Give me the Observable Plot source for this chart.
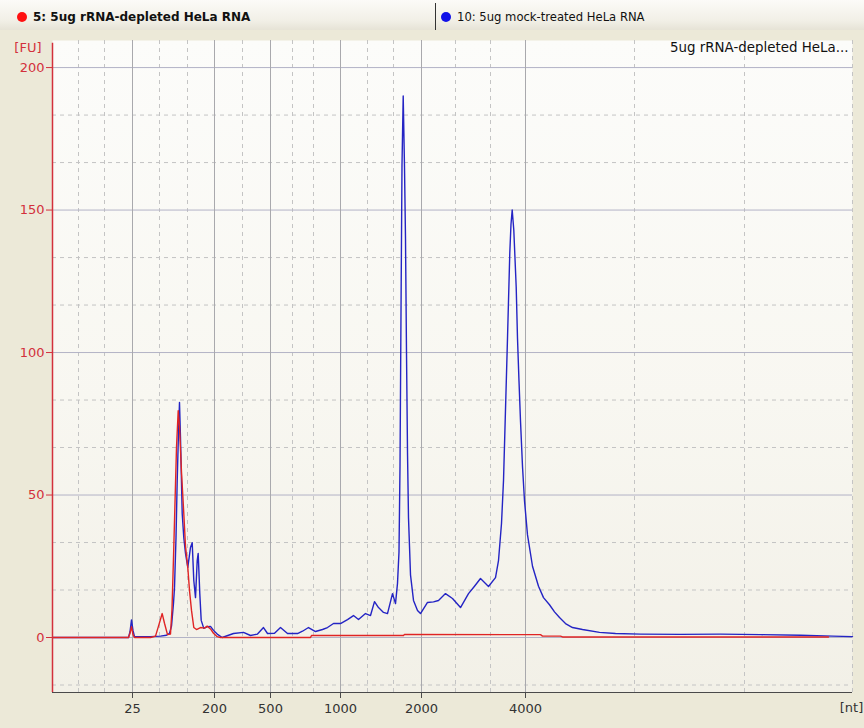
<!DOCTYPE html>
<html>
<head>
<meta charset="utf-8">
<script src="https://cdn.jsdelivr.net/npm/d3@7"></script>
<script src="https://cdn.jsdelivr.net/npm/@observablehq/plot@0.6"></script>
<style>
  html, body { margin: 0; padding: 0; background: #ece9d8; width: 864px; height: 728px; overflow: hidden; font-family: "DejaVu Sans", sans-serif; }
  #header { position: relative; height: 30px; width: 864px; background: linear-gradient(#fcfbf8, #f1efe6 70%, #e6e3d6); }
  .tab { position: absolute; top: 0; height: 30px; line-height: 34px; color: #111; white-space: nowrap; }
  .dot { display: inline-block; width: 10px; height: 10px; border-radius: 50%; vertical-align: -1px; margin-right: 6px; }
  #sep { position: absolute; left: 435px; top: 3px; width: 1px; height: 27px; background: #333; }
</style>
</head>
<body>
<div id="header">
  <div class="tab" style="left:17px;font-weight:bold;font-size:12px;"><span class="dot" style="background:#ff1010"></span>5: 5ug rRNA-depleted HeLa RNA</div>
  <div id="sep"></div>
  <div class="tab" style="left:441px;font-size:11.6px;"><span class="dot" style="background:#1010e8"></span>10: 5ug mock-treated HeLa RNA</div>
</div>
<div id="chart"></div>
<script>
// Migration time (s) of the ladder-calibrated size ticks and their labels (nt)
const ntLabels = ["25", "200", "500", "1000", "2000", "4000"];
const ntTimes = [23.0, 28.125, 31.625, 36.0, 41.0625, 47.5625];
// minor (dashed) vertical grid positions (s)
const minorTimes = [19.625, 21.25, 24.6875, 26.4375, 29.875, 33.0, 34.3125, 37.6875, 39.3125, 43.1875, 45.375, 54.375, 61.25, 68.0];
// FU gridlines
const fuTicks = [0, 50, 100, 150, 200];
const fuMinor = [-16.67, 16.67, 33.33, 66.67, 83.33, 116.67, 133.33, 166.67, 183.33];

// Sample 10: 5ug mock-treated HeLa RNA (blue)
const mockTime = [18, 22.75, 22.844, 22.9375, 23.031, 23.125, 24.125, 24.75, 25.125, 25.3125, 25.4375, 25.5625, 25.625, 25.719, 25.794, 25.875, 25.9375, 26.0, 26.106, 26.206, 26.3125, 26.456, 26.5625, 26.625, 26.731, 26.831, 26.9375, 27.044, 27.106, 27.206, 27.294, 27.456, 27.6875, 27.875, 28.0625, 28.294, 28.606, 29.3125, 29.9375, 30.375, 30.8125, 31.1875, 31.4375, 31.875, 32.25, 32.6875, 33.3125, 33.625, 34.0, 34.4375, 34.875, 35.1875, 35.5625, 36.0, 36.4375, 36.8125, 37.125, 37.5625, 37.875, 38.125, 38.375, 38.6875, 38.9375, 39.25, 39.4375, 39.5625, 39.656, 39.719, 39.794, 39.844, 39.919, 40.0, 40.0625, 40.125, 40.1875, 40.25, 40.375, 40.5625, 40.8125, 41.0, 41.4375, 41.8125, 42.125, 42.5625, 43.0, 43.5, 44.0, 44.375, 44.75, 45.25, 45.6875, 45.875, 46.0625, 46.1875, 46.3125, 46.4375, 46.581, 46.656, 46.731, 46.831, 46.906, 46.981, 47.0625, 47.156, 47.25, 47.375, 47.5, 47.6875, 48.0, 48.375, 48.6875, 49.0625, 49.375, 49.6875, 50.0625, 50.5, 51.125, 52.1875, 53.1875, 54.75, 57.25, 59.75, 62.25, 64.75, 66.75, 68.0];
const mockFU = [0, 0, 2, 6.2, 2.5, 0.3, 0.3, 0.5, 0.8, 1.5, 4, 12, 17.5, 35, 55, 72, 82.5, 70, 43.5, 35, 29.5, 24.6, 29, 31.6, 33.3, 20, 14, 27, 29.5, 15.4, 6, 3.2, 3.8, 3.9, 2.5, 1.2, 0, 1.4, 1.8, 0.7, 1.2, 3.5, 1.4, 1.5, 3.5, 1.4, 1.4, 2.2, 3.5, 2.1, 2.8, 3.5, 4.9, 4.9, 6.3, 7.7, 6.3, 8.4, 7.7, 12.6, 10.5, 8.8, 8.4, 15.4, 11.9, 19, 30, 60, 125, 166, 190, 165, 140, 100, 65, 42, 22, 13, 9.5, 8.4, 12.3, 12.5, 13, 15.4, 13.7, 10.5, 15.4, 18, 20.7, 17.9, 21, 27, 40, 55, 80, 105, 135, 145, 150, 143, 133, 123, 105, 90, 76, 60, 48, 36, 25, 18, 14, 11.5, 9, 7, 4.9, 3.5, 2.8, 1.8, 1.4, 1.2, 1.1, 1.2, 1.0, 0.8, 0.5, 0.3];

// Sample 5: 5ug rRNA-depleted HeLa RNA (red)
const depTime = [18, 22.75, 22.844, 22.9375, 23.031, 23.125, 24.125, 24.4375, 24.625, 24.856, 25.0, 25.1875, 25.375, 25.469, 25.581, 25.75, 25.856, 25.9375, 26.0625, 26.206, 26.3125, 26.456, 26.5625, 26.6875, 26.831, 27.0, 27.25, 27.5, 27.669, 27.875, 28.0625, 28.294, 28.5, 34.125, 34.1875, 39.9375, 40.0, 48.5, 48.625, 49.75, 49.875, 66.5];
const depFU = [0, 0, 1.5, 3.8, 1, 0, 0, 0.5, 4, 8.4, 5, 1, 1.2, 10, 31.6, 66.7, 79.6, 74, 58, 43.5, 32, 24.6, 16.5, 9.5, 3.5, 2.8, 3.5, 3.3, 4, 3, 1.5, 0.3, 0, 0, 0.7, 0.7, 1.1, 1.0, 0.5, 0.5, 0.2, 0.2];

const mock = mockTime.map((t, i) => ({t, fu: mockFU[i]}));
const dep = depTime.map((t, i) => ({t, fu: depFU[i]}));
const labelOf = new Map(ntTimes.map((t, i) => [t, ntLabels[i]]));

const xDomain = [18, 68];
const yDomain = [-19.3, 209.5];
const axisRed = "#d3303c";

const chart = Plot.plot({
  width: 864,
  height: 698,
  marginTop: 10,
  marginBottom: 36,
  marginLeft: 52,
  marginRight: 12,
  style: {background: "transparent", fontFamily: "DejaVu Sans, sans-serif", fontSize: "13px", overflow: "visible"},
  x: {domain: xDomain, axis: null},
  y: {domain: yDomain, axis: null},
  marks: [
    Plot.frame({fill: "url(#plotbg)", stroke: null}),
    Plot.ruleY(fuMinor, {stroke: "#c4c4c4", strokeDasharray: "4,4", strokeWidth: 1}),
    Plot.ruleX(minorTimes, {stroke: "#c4c4c4", strokeDasharray: "4,4", strokeWidth: 1}),
    Plot.ruleY(fuTicks, {stroke: "#b3b3c6", strokeWidth: 1}),
    Plot.ruleX(ntTimes, {stroke: "#a9a9ad", strokeWidth: 1}),
    Plot.line(mock, {x: "t", y: "fu", stroke: "#2424c4", strokeWidth: 1.4}),
    Plot.line(dep, {x: "t", y: "fu", stroke: "#e02424", strokeWidth: 1.4}),
    Plot.ruleY([yDomain[0]], {stroke: "#4a4a4a", strokeWidth: 1.2}),
    Plot.ruleX([xDomain[0]], {stroke: axisRed, strokeWidth: 1.5, y1: yDomain[0], y2: 208.5}),
    Plot.axisY(fuTicks, {tickSize: 6, stroke: axisRed, fill: axisRed, fontSize: 13, tickPadding: 2, label: null}),
    Plot.axisX(ntTimes, {tickSize: 6, stroke: "#4a4a4a", fill: "#333", fontSize: 13, tickPadding: 5, label: null, tickFormat: d => labelOf.get(d)}),
    Plot.text(["[FU]"], {frameAnchor: "top-left", textAnchor: "end", dx: -11, dy: 2, fill: axisRed, fontSize: 13}),
    Plot.text(["[nt]"], {frameAnchor: "bottom-right", textAnchor: "middle", dx: -1, dy: 19, fill: "#333", fontSize: 13}),
    Plot.text(["5ug rRNA-depleted HeLa..."], {frameAnchor: "top-right", textAnchor: "end", dx: -4, dy: 2, fill: "#111", fontSize: 13.4})
  ]
});

const defs = d3.select(chart).insert("defs", ":first-child");
const g = defs.append("linearGradient").attr("id", "plotbg").attr("x1", 0).attr("y1", 0).attr("x2", 0).attr("y2", 1);
g.append("stop").attr("offset", "0%").attr("stop-color", "#fcfcfa");
g.append("stop").attr("offset", "55%").attr("stop-color", "#f8f7f1");
g.append("stop").attr("offset", "100%").attr("stop-color", "#f2f0e7");

document.getElementById("chart").appendChild(chart);
</script>
</body>
</html>
